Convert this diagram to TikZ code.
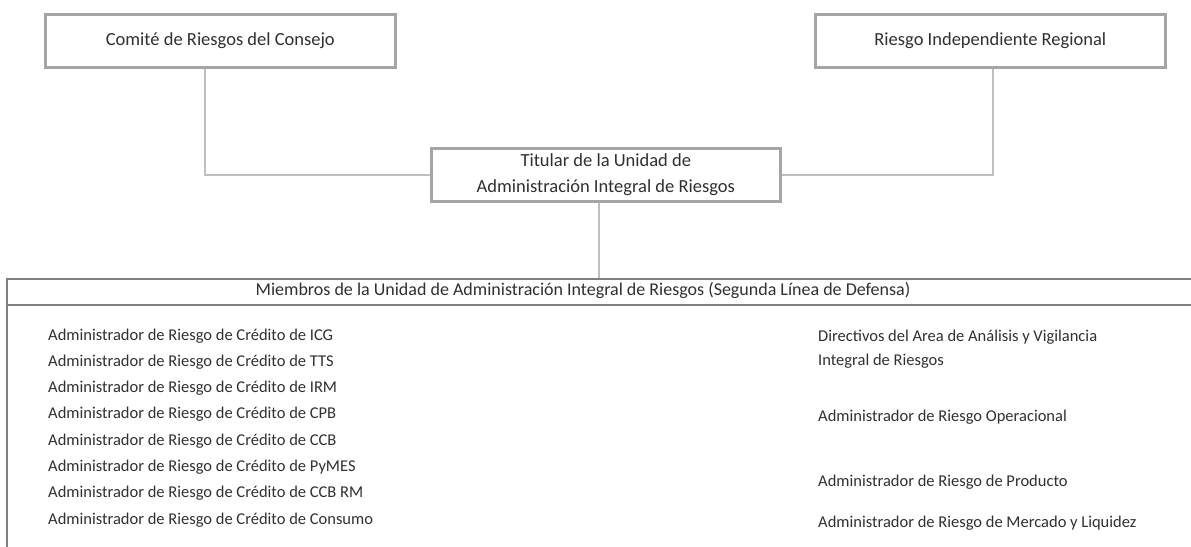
\documentclass[tikz,border=0pt]{standalone}
\usepackage{fontspec}
\setmainfont{Carlito}
\definecolor{boxline}{HTML}{A5A5A5}
\definecolor{conline}{HTML}{BFBFBF}
\definecolor{frameline}{HTML}{808080}
\definecolor{txt}{HTML}{303030}
\begin{document}
\begin{tikzpicture}[x=1pt,y=-1pt,
  every node/.style={text=txt,font=\fontsize{16.5}{26}\selectfont},
  topbox/.style={draw=boxline,line width=2.6pt,minimum width=350pt,minimum height=53pt,anchor=north west,inner sep=0pt,font=\fontsize{18.5}{26}\selectfont},
  conn/.style={draw=conline,line width=2.6pt},
  frm/.style={draw=frameline,line width=1.2pt},
  item/.style={anchor=west,inner sep=0pt,text height=11pt,text depth=3.5pt}]
\useasboundingbox (0,0) rectangle (1191,546);
\fill[white] (0,0) rectangle (1191,546);
% top boxes
\node[topbox] (b1) at (44,13) {Comité de Riesgos del Consejo};
\node[topbox] (b2) at (814,13) {Riesgo Independiente Regional};
\node[topbox,minimum width=349pt,align=center] (tit) at (430,147) {Titular de la Unidad de\\Administración Integral de Riesgos};
% connectors
\coordinate (c1) at (205,0);
\coordinate (c2) at (993,0);
\coordinate (ft) at (599,279);
\draw[conn] (b1.south -| c1) |- (tit.west);
\draw[conn] (b2.south -| c2) |- (tit.east);
\draw[conn] (tit.south -| ft) -- (ft);
% frame
\draw[frm] (1192,279) -- (7,279) -- (7,547);
\draw[frm] (7,305) -- (1192,305);
\node[item,anchor=center,font=\fontsize{18}{26}\selectfont] (hdr) at (583,292) {Miembros de la Unidad de Administración Integral de Riesgos (Segunda Línea de Defensa)};
% left list
\node[item] (l1) at (48,337) {Administrador de Riesgo de Crédito de ICG};
\node[item] (l2) at (48,363) {Administrador de Riesgo de Crédito de TTS};
\node[item] (l3) at (48,389) {Administrador de Riesgo de Crédito de IRM};
\node[item] (l4) at (48,415) {Administrador de Riesgo de Crédito de CPB};
\node[item] (l5) at (48,442) {Administrador de Riesgo de Crédito de CCB};
\node[item] (l6) at (48,468) {Administrador de Riesgo de Crédito de PyMES};
\node[item] (l7) at (48,494) {Administrador de Riesgo de Crédito de CCB RM};
\node[item] (l8) at (48,521) {Administrador de Riesgo de Crédito de Consumo};
% right list
\node[item] (r1) at (818,338) {Directivos del Area de Análisis y Vigilancia};
\node[item] (r1b) at (818,362) {Integral de Riesgos};
\node[item] (r2) at (818,418) {Administrador de Riesgo Operacional};
\node[item] (r3) at (818,483) {Administrador de Riesgo de Producto};
\node[item] (r4) at (818,524) {Administrador de Riesgo de Mercado y Liquidez};
\end{tikzpicture}
\end{document}
